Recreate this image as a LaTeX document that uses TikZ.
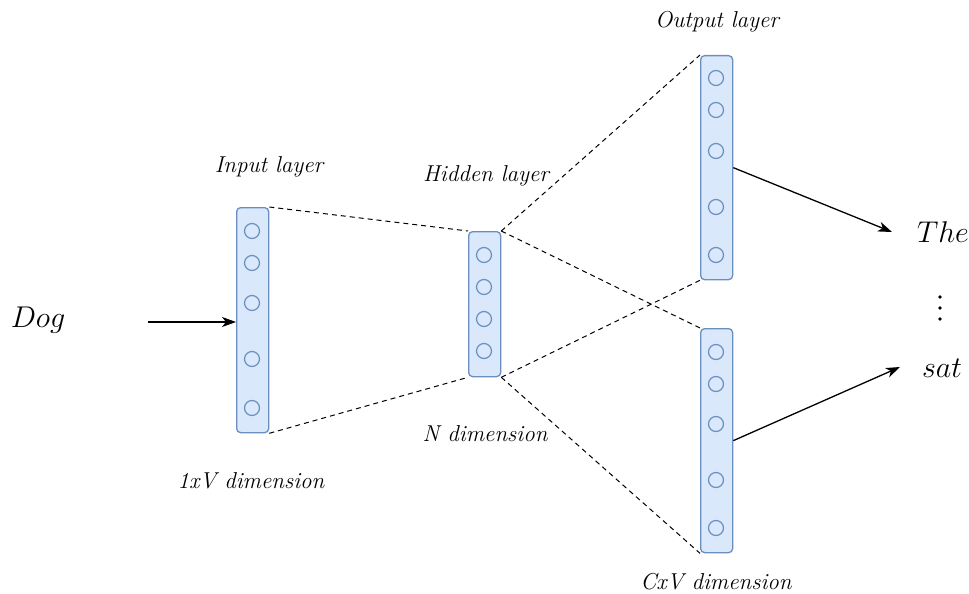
\RequirePackage{fix-cm}
\documentclass[tikz,border=0pt]{standalone}
\usetikzlibrary{arrows.meta}
\definecolor{layerfill}{HTML}{DAE8FC}
\definecolor{layerline}{HTML}{6C8EBF}
\begin{document}
\begin{tikzpicture}[x=1pt,y=-1pt,
  layerbox/.style={draw=layerline,fill=layerfill,line width=1.3pt,rounded corners=4pt,
    minimum width=32pt,inner sep=0pt,anchor=north west},
  unit/.style={circle,draw=layerline,line width=1.2pt,minimum size=15pt,inner sep=0pt},
  link/.style={dashed,dash pattern=on 5pt off 4pt,line width=1pt},
  flow/.style={line width=1.3pt,-{Stealth[length=14pt,width=10pt,inset=4pt]}},
  lbl/.style={font=\fontsize{23}{26}\selectfont\itshape},
  word/.style={font=\fontsize{30}{34}\selectfont},
  dot/.style={circle,fill=black,inner sep=0pt,minimum size=3.6pt}]
\useasboundingbox (0,0) rectangle (969,594);

% layers
\node[layerbox,minimum height=225pt] (in) at (236,207) {};
\node[layerbox,minimum height=145pt] (hid) at (468,231) {};
\node[layerbox,minimum height=224pt] (outA) at (700,55) {};
\node[layerbox,minimum height=224pt] (outB) at (700,328) {};

% units
\foreach \y [count=\i] in {231,263,303,359,408} \node[unit] (i\i) at (252,\y) {};
\foreach \y [count=\i] in {255,287,319,351} \node[unit] (h\i) at (484,\y) {};
\foreach \y [count=\i] in {78,110,151,207,255} \node[unit] (a\i) at (716,\y) {};
\foreach \y [count=\i] in {352,384,424,480,528} \node[unit] (b\i) at (716,\y) {};

% projections
\draw[link] (in.north east) -- (hid.north west);
\draw[link] (in.south east) -- (hid.south west);
\draw[link] (hid.north east) -- (outA.north west);
\draw[link] (hid.north east) -- (outB.north west);
\draw[link] (hid.south east) -- (outA.south west);
\draw[link] (hid.south east) -- (outB.south west);

% words
\node[word] (dog) at (38,320) {$Dog$};
\node[word] (the) at (943,232) {$The$};
\node[word] (sat) at (942,368) {$sat$};
% vertical ellipsis between the context words
\foreach \y [count=\i] in {297,308,319} \node[dot] (v\i) at (940,\y) {};

\coordinate (src) at (148,322);
\coordinate (tA) at (892,232);
\coordinate (tB) at (900,367);
\draw[flow] (src) -- (src -| in.west);
\draw[flow] (outA.east) -- (tA);
\draw[flow] (outB.east) -- (tB);

% labels
\node[lbl] (linput) at (269,167) {Input layer};
\node[lbl] (lhidden) at (486,176) {Hidden layer};
\node[lbl] (loutput) at (717,22) {Output layer};
\node[lbl] (dimin) at (251,481) {1xV dimension};
\node[lbl] (dimhid) at (485,434) {N dimension};
\node[lbl] (dimout) at (716,582) {CxV dimension};
\end{tikzpicture}
\end{document}
